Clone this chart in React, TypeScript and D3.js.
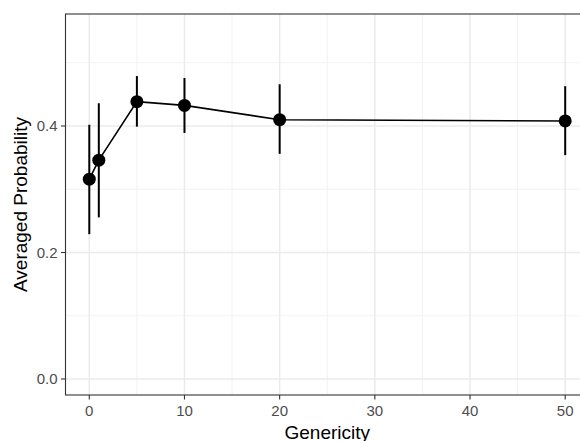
import React from "react";
import * as d3 from "d3";

const genericity = [0, 1, 5, 10, 20, 50];
const probability = [0.316, 0.346, 0.4385, 0.4326, 0.410, 0.408];
const lower = [0.229, 0.2555, 0.399, 0.389, 0.356, 0.354];
const upper = [0.402, 0.436, 0.479, 0.476, 0.466, 0.463];
const xTicks = [0, 10, 20, 30, 40, 50];
const xMinor = [5, 15, 25, 35, 45];
const yTicks = [0, 0.2, 0.4];
const yMinor = [0.1, 0.3, 0.5];

const App = () => {
  const width = 580;
  const height = 441;
  const panel = { left: 65.5, top: 14, right: 589, bottom: 395 };

  const x = d3.scaleLinear().domain([-2.5, 52.5]).range([panel.left, panel.right]);
  const y = d3.scaleLinear().domain([-0.0253, 0.5771]).range([panel.bottom, panel.top]);

  const pts = genericity.map((g, i) => ({ g, p: probability[i], lo: lower[i], hi: upper[i] }));
  const line = d3.line<{ g: number; p: number }>()
    .x(d => x(d.g))
    .y(d => y(d.p));

  const font = "'Liberation Sans', Arial, Helvetica, sans-serif";

  return (
    <svg width={width} height={height} style={{ position: "absolute", left: 0, top: 0 }} fontFamily={font}>
      <rect x={0} y={0} width={width} height={height} fill="#fff" />
      {/* minor grid */}
      {xMinor.map(v => (
        <line key={"xm" + v} x1={x(v)} x2={x(v)} y1={panel.top} y2={panel.bottom} stroke="#f2f2f2" strokeWidth={1} />
      ))}
      {yMinor.map(v => (
        <line key={"ym" + v} x1={panel.left} x2={panel.right} y1={y(v)} y2={y(v)} stroke="#f2f2f2" strokeWidth={1} />
      ))}
      {/* major grid */}
      {xTicks.map(v => (
        <line key={"xg" + v} x1={x(v)} x2={x(v)} y1={panel.top} y2={panel.bottom} stroke="#ebebeb" strokeWidth={1.5} />
      ))}
      {yTicks.map(v => (
        <line key={"yg" + v} x1={panel.left} x2={panel.right} y1={y(v)} y2={y(v)} stroke="#ebebeb" strokeWidth={1.5} />
      ))}

      {/* error bars */}
      {pts.map(d => (
        <line key={"e" + d.g} x1={x(d.g)} x2={x(d.g)} y1={y(d.lo)} y2={y(d.hi)} stroke="#000" strokeWidth={2} />
      ))}
      <path d={line(pts) || ""} fill="none" stroke="#000" strokeWidth={1.6} />
      {pts.map(d => (
        <circle key={"c" + d.g} cx={x(d.g)} cy={y(d.p)} r={6.5} fill="#000" />
      ))}

      {/* panel border */}
      <rect x={panel.left} y={panel.top} width={panel.right - panel.left} height={panel.bottom - panel.top}
        fill="none" stroke="#333" strokeWidth={1.1} />

      {/* axes ticks */}
      {yTicks.map(v => (
        <g key={"yt" + v}>
          <line x1={panel.left - 4.5} x2={panel.left} y1={y(v)} y2={y(v)} stroke="#333" strokeWidth={1.1} />
          <text x={panel.left - 8} y={y(v)} dy="0.35em" textAnchor="end" fontSize={15} fill="#4d4d4d">
            {d3.format(".1f")(v)}
          </text>
        </g>
      ))}
      {xTicks.map(v => (
        <g key={"xt" + v}>
          <line x1={x(v)} x2={x(v)} y1={panel.bottom} y2={panel.bottom + 4.5} stroke="#333" strokeWidth={1.1} />
          <text x={x(v)} y={411} dy="0.35em" textAnchor="middle" fontSize={15} fill="#4d4d4d">
            {v}
          </text>
        </g>
      ))}

      {/* titles */}
      <text x={(panel.left + panel.right) / 2} y={438.5} textAnchor="middle" fontSize={19} fill="#000">
        Genericity
      </text>
      <text transform={`translate(27, ${(panel.top + panel.bottom) / 2}) rotate(-90)`} textAnchor="middle"
        fontSize={19} fill="#000">
        Averaged Probability
      </text>
    </svg>
  );
};

export default App;
